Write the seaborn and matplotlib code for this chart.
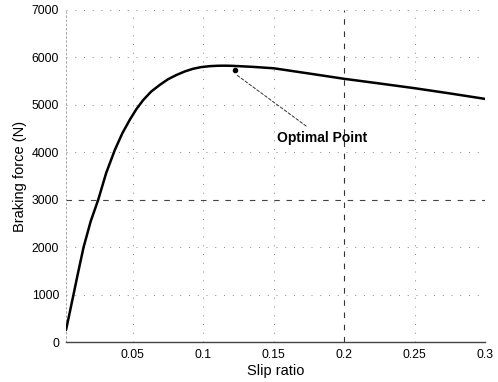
import matplotlib
matplotlib.use("Agg")
import matplotlib.pyplot as plt
import seaborn as sns
import pandas as pd

slip = [0.0025, 0.005, 0.0077, 0.011, 0.015, 0.02, 0.0254, 0.031, 0.0372, 0.0425,
        0.0479, 0.0525, 0.0573, 0.063, 0.0691, 0.075, 0.081, 0.087, 0.0928,
        0.0985, 0.1046, 0.11, 0.115, 0.12, 0.125, 0.135, 0.15, 0.175, 0.2,
        0.225, 0.25, 0.275, 0.3]
force = [250, 600, 980, 1450, 2000, 2540, 3000, 3560, 4050, 4400,
         4690, 4910, 5100, 5280, 5420, 5540, 5630, 5705, 5760,
         5795, 5815, 5823, 5825, 5822, 5815, 5800, 5770, 5660, 5548,
         5450, 5350, 5240, 5125]
x_ticks = [0.05, 0.1, 0.15, 0.2, 0.25, 0.3]
x_tick_labels = ["0.05", "0.1", "0.15", "0.2", "0.25", "0.3"]
y_ticks = [0, 1000, 2000, 3000, 4000, 5000, 6000, 7000]
opt_slip, opt_force = 0.1223, 5740
ref_slip, ref_force = 0.2, 3000

df = pd.DataFrame({"slip": slip, "force": force})

sns.set_style("white")
plt.rcParams["font.family"] = ["Liberation Sans", "DejaVu Sans"]

fig = plt.figure(figsize=(4.98, 3.82), dpi=100)
ax = fig.add_axes([0.1325, 0.1047, 0.974 - 0.1325, 0.974 - 0.1047])

# grid
grid_kw = dict(color="#888888", lw=0.7, linestyle=(0, (1, 8)), zorder=0)
for xt in x_ticks:
    if xt != ref_slip:
        ax.axvline(xt, **grid_kw)
for yt in y_ticks[1:]:
    if yt != ref_force:
        ax.axhline(yt, **grid_kw)
ax.axvline(ref_slip, color="#333333", lw=0.8, linestyle=(0, (5, 6)), zorder=0)
ax.axhline(ref_force, color="#444444", lw=0.8, linestyle=(0, (5, 6)), zorder=0)

sns.lineplot(data=df, x="slip", y="force", ax=ax, color="black", lw=1.8, zorder=3)
ax.plot([opt_slip], [opt_force], "o", color="black", ms=3, zorder=4)

ax.annotate("Optimal Point", xy=(opt_slip, opt_force - 80), xytext=(0.1525, 4300),
            fontsize=10, fontweight="bold", ha="left", va="center", color="black",
            arrowprops=dict(arrowstyle="-", color="#333333", lw=0.7,
                            linestyle=(0, (3, 2)), shrinkA=2, shrinkB=1))

ax.set_xlim(0.0025, 0.3)
ax.set_ylim(0, 7000)
ax.set_xticks(x_ticks)
ax.set_xticklabels(x_tick_labels)
ax.set_yticks(y_ticks)
ax.tick_params(axis="both", length=0, labelsize=8.8, pad=5, colors="black")
ax.set_xlabel("Slip ratio", fontsize=10.5, labelpad=2, color="black")
ax.set_ylabel("Braking force (N)", fontsize=10.5, labelpad=3, color="black")

for s in ["top", "right"]:
    ax.spines[s].set_visible(False)
ax.spines["left"].set_color("#999999")
ax.spines["left"].set_linewidth(0.6)
ax.spines["left"].set_linestyle((0, (2, 3)))
ax.spines["bottom"].set_color("#444444")
ax.spines["bottom"].set_linewidth(1.0)

fig.savefig("out.png", dpi=100, facecolor="white")
